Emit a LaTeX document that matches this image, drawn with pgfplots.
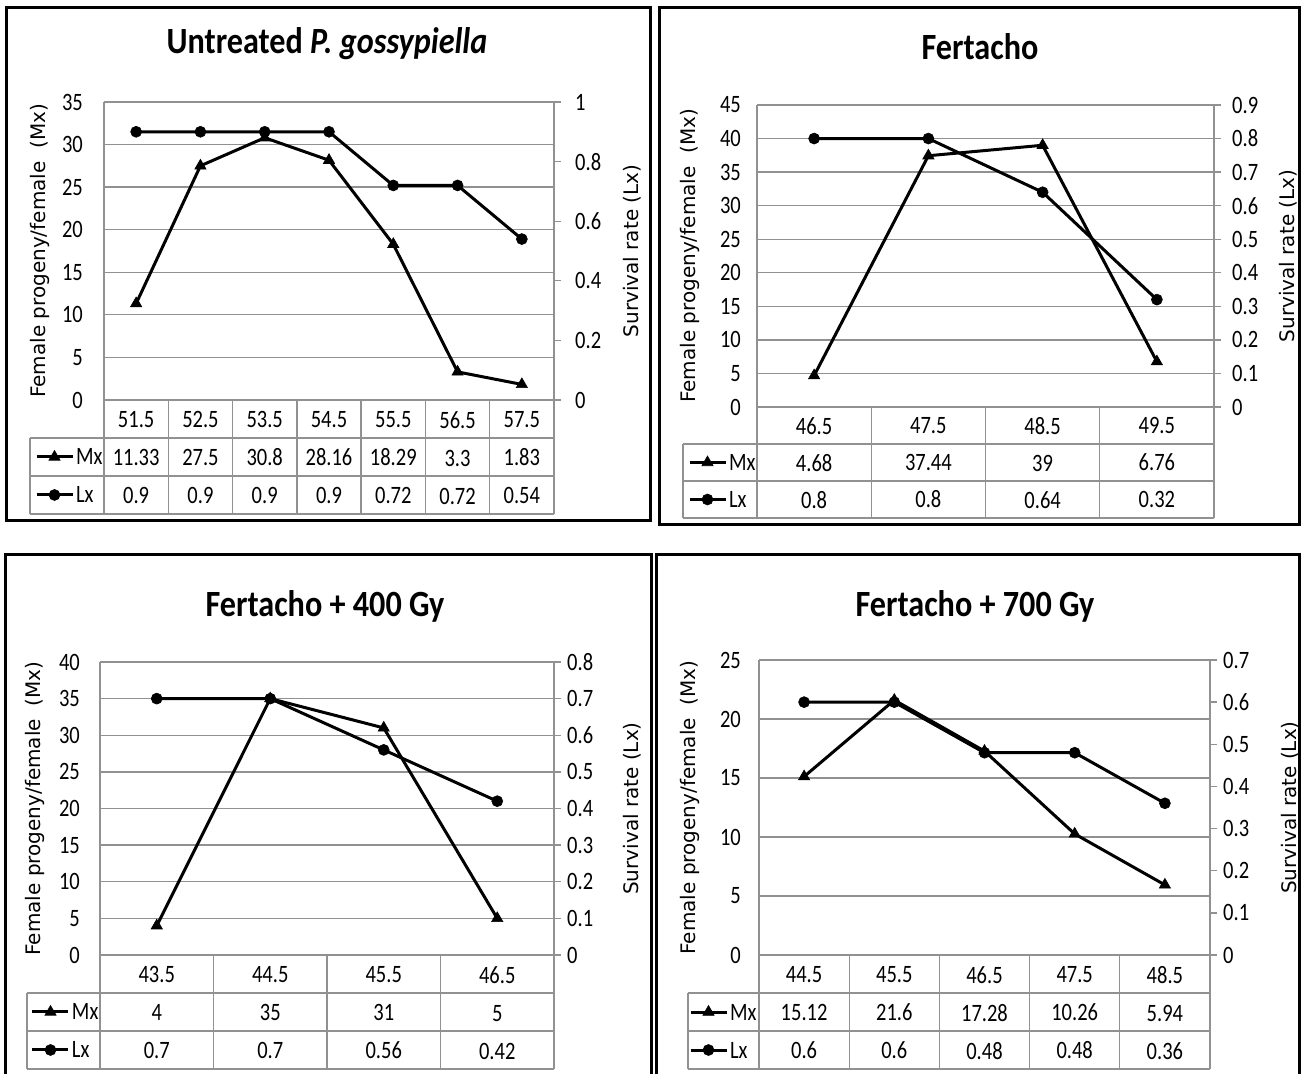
\documentclass[border=0pt]{standalone}
\usepackage{fontspec}
\setmainfont{Carlito}
\newfontfamily\cnd[FakeStretch=0.82]{Carlito}
\newfontfamily\tfont[FakeStretch=0.87]{Carlito}
\newfontfamily\vfont{DejaVu Sans}
\usepackage{pgfplots}
\usepackage{pgfplotstable}
\pgfplotsset{compat=1.18}
\definecolor{gridc}{RGB}{145,145,145}

\pgfplotstableread{
x mx lx
0 11.33 0.9
1 27.5 0.9
2 30.8 0.9
3 28.16 0.9
4 18.29 0.72
5 3.3 0.72
6 1.83 0.54
}\pone
\pgfplotstableread{
x mx lx
0 4.68 0.8
1 37.44 0.8
2 39 0.64
3 6.76 0.32
}\ptwo
\pgfplotstableread{
x mx lx
0 4 0.7
1 35 0.7
2 31 0.56
3 5 0.42
}\pthree
\pgfplotstableread{
x mx lx
0 15.12 0.6
1 21.6 0.6
2 17.28 0.48
3 10.26 0.48
4 5.94 0.36
}\pfour

\pgfplotsset{
  base/.style={scale only axis, anchor=south west, xmin=-0.5, clip=false,
    /pgf/number format/assume math mode=true},
  leftax/.style={base,
    axis x line*=bottom, axis y line*=left,
    axis line style={gridc, line width=1.3pt},
    ymajorgrids, grid style={gridc, line width=1.3pt},
    major tick length=0pt,
    yticklabel style={font=\cnd\fontsize{25}{30}\selectfont, anchor=east, inner sep=0pt},
    xticklabel style={anchor=north, inner sep=0pt, align=center},
    ylabel style={font=\vfont\fontsize{20}{24}\selectfont, anchor=center},
    legend style={draw=none, fill=none, inner sep=0pt, outer sep=0pt, anchor=north west,
      nodes={inner sep=0pt, text height=16pt, text depth=0pt, font=\cnd\fontsize{25}{30}\selectfont},
      /tikz/every odd column/.append style={column sep=2pt}},
    legend cell align=left,
    legend image code/.code={\draw[mark repeat=2,mark phase=2,##1] plot coordinates {(0pt,0pt) (18pt,0pt) (36pt,0pt)};},
  },
  rightax/.style={base, axis x line=none, axis y line*=right,
    axis line style={gridc, line width=1.3pt},
    tick align=outside, major tick length=7pt, tick style={gridc, line width=1.3pt},
    yticklabel style={font=\cnd\fontsize{25}{30}\selectfont, anchor=west, inner sep=0pt},
    ylabel style={font=\vfont\fontsize{20}{24}\selectfont, anchor=center},
  },
  mx/.style={black, line width=3pt, mark=triangle*, mark size=6.5pt, mark options={solid, line width=0.6pt}},
  lx/.style={black, line width=3pt, mark=*, mark size=5.5pt, mark options={solid, line width=0.6pt}},
}
\tikzset{tbl/.style={gridc, line width=1.3pt}, brd/.style={black, line width=3pt},
  ttl/.style={anchor=base, font=\tfont\bfseries\fontsize{37}{42}\selectfont}}

\begin{document}
\begin{tikzpicture}
\path[use as bounding box] (0pt,0pt) rectangle (1303pt,1073pt);

% ---------- Panel 1 ----------
\begin{axis}[leftax, at={(104pt,673pt)}, width=450pt, height=298pt, xmax=6.5,
  ymin=0, ymax=35, ytick={0,5,10,15,20,25,30,35}, xtick={0,1,2,3,4,5,6},
  xticklabel style={font=\cnd\fontsize{25}{38}\selectfont, yshift=-11pt},
  xticklabels={{51.5\\11.33\\0.9},{52.5\\27.5\\0.9},{53.5\\30.8\\0.9},{54.5\\28.16\\0.9},{55.5\\18.29\\0.72},{56.5\\3.3\\0.72},{57.5\\1.83\\0.54}},
  yticklabel style={xshift=-21pt},
  ylabel={Female progeny/female\ \ (Mx)}, ylabel style={at={(axis description cs:-0.1422,0.5)}},
  legend style={at={(axis description cs:-0.1533,-0.1644)}, row sep=22pt}]
\addplot[mx] table[x=x,y=mx] {\pone}; \addlegendentry{Mx}
\addlegendimage{lx}\addlegendentry{Lx}
\end{axis}
\begin{axis}[rightax, at={(104pt,673pt)}, width=450pt, height=298pt, xmax=6.5,
  ymin=0, ymax=1, ytick={0,0.2,0.4,0.6,0.8,1}, yticklabel style={xshift=14pt},
  ylabel={Survival rate (Lx)}, ylabel style={at={(axis description cs:1.1733,0.5)}}]
\addplot[lx] table[x=x,y=lx] {\pone};
\end{axis}

% ---------- Panel 2 ----------
\begin{axis}[leftax, at={(757pt,666pt)}, width=457pt, height=302pt, xmax=3.5,
  ymin=0, ymax=45, ytick={0,5,10,15,20,25,30,35,40,45}, xtick={0,1,2,3},
  xticklabel style={font=\cnd\fontsize{25}{37}\selectfont, yshift=-10.5pt},
  xticklabels={{46.5\\4.68\\0.8},{47.5\\37.44\\0.8},{48.5\\39\\0.64},{49.5\\6.76\\0.32}},
  yticklabel style={xshift=-16pt},
  ylabel={Female progeny/female\ \ (Mx)}, ylabel style={at={(axis description cs:-0.1466,0.5)}},
  legend style={at={(axis description cs:-0.151,-0.1573)}, row sep=21pt}]
\addplot[mx] table[x=x,y=mx] {\ptwo}; \addlegendentry{Mx}
\addlegendimage{lx}\addlegendentry{Lx}
\end{axis}
\begin{axis}[rightax, at={(757pt,666pt)}, width=457pt, height=302pt, xmax=3.5,
  ymin=0, ymax=0.9, ytick={0,0.1,0.2,0.3,0.4,0.5,0.6,0.7,0.8,0.9}, yticklabel style={xshift=11pt},
  ylabel={Survival rate (Lx)}, ylabel style={at={(axis description cs:1.162,0.5)}}]
\addplot[lx] table[x=x,y=lx] {\ptwo};
\end{axis}

% ---------- Panel 3 ----------
\begin{axis}[leftax, at={(100pt,118pt)}, width=454pt, height=293pt, xmax=3.5,
  ymin=0, ymax=40, ytick={0,5,10,15,20,25,30,35,40}, xtick={0,1,2,3},
  xticklabel style={font=\cnd\fontsize{25}{38}\selectfont, yshift=-11pt},
  xticklabels={{43.5\\4\\0.7},{44.5\\35\\0.7},{45.5\\31\\0.56},{46.5\\5\\0.42}},
  yticklabel style={xshift=-20pt},
  ylabel={Female progeny/female\ \ (Mx)}, ylabel style={at={(axis description cs:-0.143,0.5)}},
  legend style={at={(axis description cs:-0.1520,-0.1672)}, row sep=22pt}]
\addplot[mx] table[x=x,y=mx] {\pthree}; \addlegendentry{Mx}
\addlegendimage{lx}\addlegendentry{Lx}
\end{axis}
\begin{axis}[rightax, at={(100pt,118pt)}, width=454pt, height=293pt, xmax=3.5,
  ymin=0, ymax=0.8, ytick={0,0.1,0.2,0.3,0.4,0.5,0.6,0.7,0.8}, yticklabel style={xshift=6pt},
  ylabel={Survival rate (Lx)}, ylabel style={at={(axis description cs:1.172,0.5)}}]
\addplot[lx] table[x=x,y=lx] {\pthree};
\end{axis}

% ---------- Panel 4 ----------
\begin{axis}[leftax, at={(759pt,118pt)}, width=451pt, height=295pt, xmax=4.5,
  ymin=0, ymax=25, ytick={0,5,10,15,20,25}, xtick={0,1,2,3,4},
  xticklabel style={font=\cnd\fontsize{25}{38}\selectfont, yshift=-11pt},
  xticklabels={{44.5\\15.12\\0.6},{45.5\\21.6\\0.6},{46.5\\17.28\\0.48},{47.5\\10.26\\0.48},{48.5\\5.94\\0.36}},
  yticklabel style={xshift=-18pt},
  ylabel={Female progeny/female\ \ (Mx)}, ylabel style={at={(axis description cs:-0.153,0.5)}},
  legend style={at={(axis description cs:-0.1552,-0.1661)}, row sep=22pt}]
\addplot[mx] table[x=x,y=mx] {\pfour}; \addlegendentry{Mx}
\addlegendimage{lx}\addlegendentry{Lx}
\end{axis}
\begin{axis}[rightax, at={(759pt,118pt)}, width=451pt, height=295pt, xmax=4.5,
  ymin=0, ymax=0.7, ytick={0,0.1,0.2,0.3,0.4,0.5,0.6,0.7}, yticklabel style={xshift=6pt},
  ylabel={Survival rate (Lx)}, ylabel style={at={(axis description cs:1.177,0.5)}}]
\addplot[lx] table[x=x,y=lx] {\pfour};
\end{axis}

% ---------- table grids ----------
\foreach \y in {635,597,559} \draw[tbl] (30pt,\y pt)--(554pt,\y pt);
\draw[tbl] (30pt,635pt)--(30pt,559pt);
\foreach \x in {104,168.29,232.57,296.86,361.14,425.43,489.71,554} \draw[tbl] (\x pt,673pt)--(\x pt,559pt);

\foreach \y in {629,592,555} \draw[tbl] (683pt,\y pt)--(1214pt,\y pt);
\draw[tbl] (683pt,629pt)--(683pt,555pt);
\foreach \x in {757,871.25,985.5,1099.75,1214} \draw[tbl] (\x pt,666pt)--(\x pt,555pt);

\foreach \y in {80,42,4} \draw[tbl] (27pt,\y pt)--(554pt,\y pt);
\draw[tbl] (27pt,80pt)--(27pt,4pt);
\foreach \x in {100,213.5,327,440.5,554} \draw[tbl] (\x pt,118pt)--(\x pt,4pt);

\foreach \y in {80,42,4} \draw[tbl] (688pt,\y pt)--(1210pt,\y pt);
\draw[tbl] (688pt,80pt)--(688pt,4pt);
\foreach \x in {759,849.2,939.4,1029.6,1119.8,1210} \draw[tbl] (\x pt,118pt)--(\x pt,4pt);

% ---------- titles ----------
\node[ttl] at (327pt,1019.7pt) {Untreated \textit{P. gossypiella}};
\node[ttl] at (980pt,1013pt) {Fertacho};
\node[ttl] at (325pt,456pt) {Fertacho + 400 Gy};
\node[ttl] at (975pt,456pt) {Fertacho + 700 Gy};

% ---------- borders ----------
\draw[brd] (6pt,1065pt) rectangle (650pt,552pt);
\draw[brd] (659pt,1065pt) rectangle (1299pt,548pt);
\draw[brd] (5pt,518pt) rectangle (651pt,-12pt);
\draw[brd] (656pt,518pt) rectangle (1299pt,-12pt);
\end{tikzpicture}
\end{document}
